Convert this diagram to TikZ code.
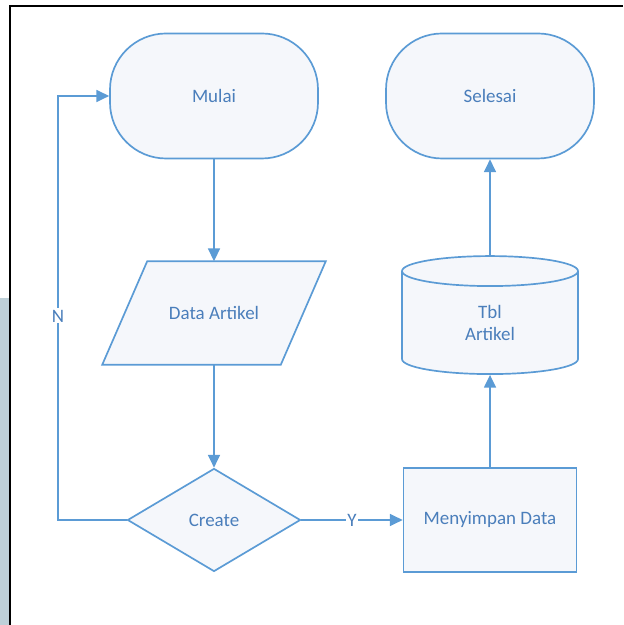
\documentclass[tikz,border=0pt]{standalone}
\usepackage{fontspec}
\setmainfont{Carlito}
\usepackage{xcolor}
\usepackage{tikz}
\usetikzlibrary{shapes.geometric, arrows.meta, positioning, calc, backgrounds}
\definecolor{flowline}{HTML}{5B9BD5}
\definecolor{flowtext}{HTML}{4A7EBB}
\definecolor{flowfill}{HTML}{F5F7FB}
\definecolor{sidegray}{HTML}{BED0D8}

\begin{document}
\begin{tikzpicture}[
    terminal/.style={rectangle, rounded corners=1.4cm, draw=flowline, fill=flowfill, line width=1.2pt, minimum width=5.2cm, minimum height=3.125cm, font=\fontsize{13.5}{16}\selectfont, text=flowtext},
    inputbox/.style={rectangle, minimum width=4.45cm, minimum height=2.575cm, inner sep=0pt, font=\fontsize{13.5}{16}\selectfont, text=flowtext},
    slanted/.style={draw=flowline, fill=flowfill, line width=1.2pt},
    decision/.style={diamond, draw=flowline, fill=flowfill, line width=1.2pt, minimum width=4.325cm, minimum height=2.575cm, inner sep=0pt, font=\fontsize{13.5}{16}\selectfont, text=flowtext},
    process/.style={rectangle, draw=flowline, fill=flowfill, line width=1.2pt, minimum width=4.325cm, minimum height=2.6cm, font=\fontsize{13.5}{16}\selectfont, text=flowtext},
    storage/.style={cylinder, shape border rotate=90, aspect=0.6, draw=flowline, fill=flowfill, line width=1.2pt, minimum width=4.4cm, minimum height=2.95cm, inner sep=0pt, align=center, font=\fontsize{13.5}{16}\selectfont, text=flowtext},
    lbl/.style={fill=white, inner sep=1pt, font=\fontsize{13.5}{16}\selectfont, text=flowtext},
    arrow/.style={-{Triangle[length=3.2mm, width=3mm]}, line width=1.2pt, color=flowline}
]
\useasboundingbox (0,0) rectangle (15.575,15.625);

% Window edge
\fill[sidegray] (0,0) rectangle (0.22,8.175);
\draw[line width=1.8pt, black] (0.25,0) -- (0.25,15.475) -- (15.575,15.475);

% Start and end
\node[terminal] (mulai) at (5.35,13.225) {Mulai};
\node[terminal] (selesai) at (12.25,13.225) {Selesai};

% Left column
\node[inputbox] (data) at (5.35,7.8) {Data Artikel};
\begin{scope}[on background layer]
\draw[slanted] ($(data.north west)+(0.5625,0)$) -- ($(data.north east)+(0.5625,0)$)
    -- ($(data.south east)+(-0.5625,0)$) -- ($(data.south west)+(-0.5625,0)$) -- cycle;
\end{scope}
\node[decision] (create) at (5.35,2.625) {Create};

% Right column
\node[process] (simpan) at (12.25,2.625) {Menyimpan Data};
\node[storage] (tbl) at (12.25,7.55) {Tbl\\Artikel};

\coordinate (nloop) at (1.45,7.725);

% Arrows
\draw[arrow] (mulai) -- (data);
\draw[arrow] (data) -- (create);
\draw[arrow] (create.east) -- node[lbl] {Y} (simpan.west);
\draw[arrow] (simpan) -- (tbl);
\draw[arrow] (tbl) -- (selesai);
\draw[arrow] (create.west) -| (nloop) node[lbl] {N} |- (mulai.west);

\end{tikzpicture}
\end{document}
